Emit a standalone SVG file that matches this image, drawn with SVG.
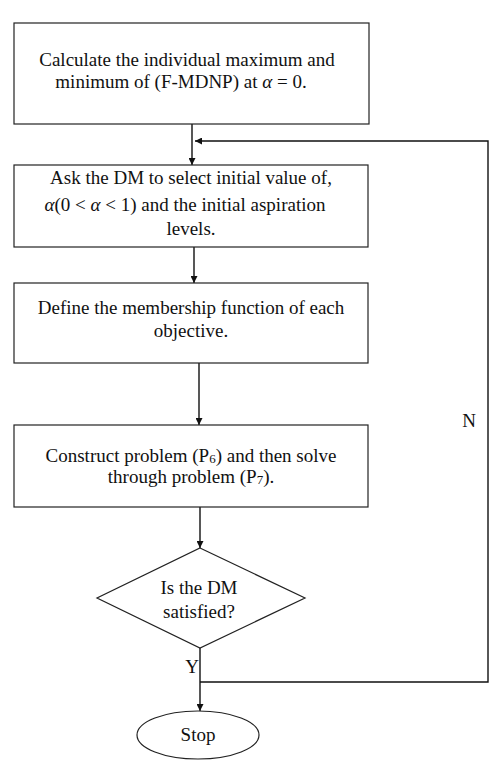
<svg xmlns="http://www.w3.org/2000/svg" width="491" height="760" viewBox="0 0 491 760">
<style>
.box{fill:#fff;stroke:#222;stroke-width:1.2}
.t{font-family:"Liberation Serif","Times New Roman",serif;font-size:19px;fill:#111;text-anchor:middle}
.ln{fill:none;stroke:#111;stroke-width:1.4}
.sub{font-size:13px}
</style>
<defs>
<marker id="ah" viewBox="0 0 10 10" refX="10" refY="5" markerWidth="7" markerHeight="7" markerUnits="userSpaceOnUse" orient="auto">
<path d="M0,0 L10,5 L0,10 z" fill="#111"/>
</marker>
</defs>
<rect width="491" height="760" fill="#fff"/>
<g id="connectors">
<path class="ln" d="M192,124 V165" marker-end="url(#ah)"/>
<path class="ln" d="M194,247 V283" marker-end="url(#ah)"/>
<path class="ln" d="M199,363 V425" marker-end="url(#ah)"/>
<path class="ln" d="M200,507 V548" marker-end="url(#ah)"/>
<path class="ln" d="M200,648 V711" marker-end="url(#ah)"/>
<path class="ln" d="M200,682 H488 V141 H195" marker-end="url(#ah)"/>
<text class="t" x="469" y="427">N</text>
<text class="t" x="192" y="673">Y</text>
</g>
<g id="n1">
<rect class="box" x="14" y="23" width="355" height="101"/>
<text class="t" x="187" y="66">Calculate the individual maximum and</text>
<text class="t" x="181" y="88">minimum of (F-MDNP) at <tspan font-style="italic">α</tspan> = 0.</text>
</g>
<g id="n2">
<rect class="box" x="14" y="165" width="354" height="82"/>
<text class="t" x="191" y="184">Ask the DM to select initial value of,</text>
<text class="t" x="185" y="211"><tspan font-style="italic">α</tspan>(0 &lt; <tspan font-style="italic">α</tspan> &lt; 1)  and the initial aspiration</text>
<text class="t" x="191" y="235">levels.</text>
</g>
<g id="n3">
<rect class="box" x="14" y="283" width="354" height="80"/>
<text class="t" x="191" y="314">Define the membership function of each</text>
<text class="t" x="191" y="337">objective.</text>
</g>
<g id="n4">
<rect class="box" x="14" y="425" width="354" height="82"/>
<text class="t" x="191" y="462">Construct problem (P<tspan class="sub" dy="1">6</tspan><tspan dy="-1">) and then solve</tspan></text>
<text class="t" x="191" y="483">through problem (P<tspan class="sub" dy="1">7</tspan><tspan dy="-1">).</tspan></text>
</g>
<g id="n5">
<polygon class="box" points="200,548 305,598 200,648 97,598"/>
<text class="t" x="199" y="594">Is the DM</text>
<text class="t" x="199" y="618">satisfied?</text>
</g>
<g id="n6">
<ellipse class="box" cx="198" cy="735" rx="61" ry="24"/>
<text class="t" x="198" y="741">Stop</text>
</g>
</svg>
